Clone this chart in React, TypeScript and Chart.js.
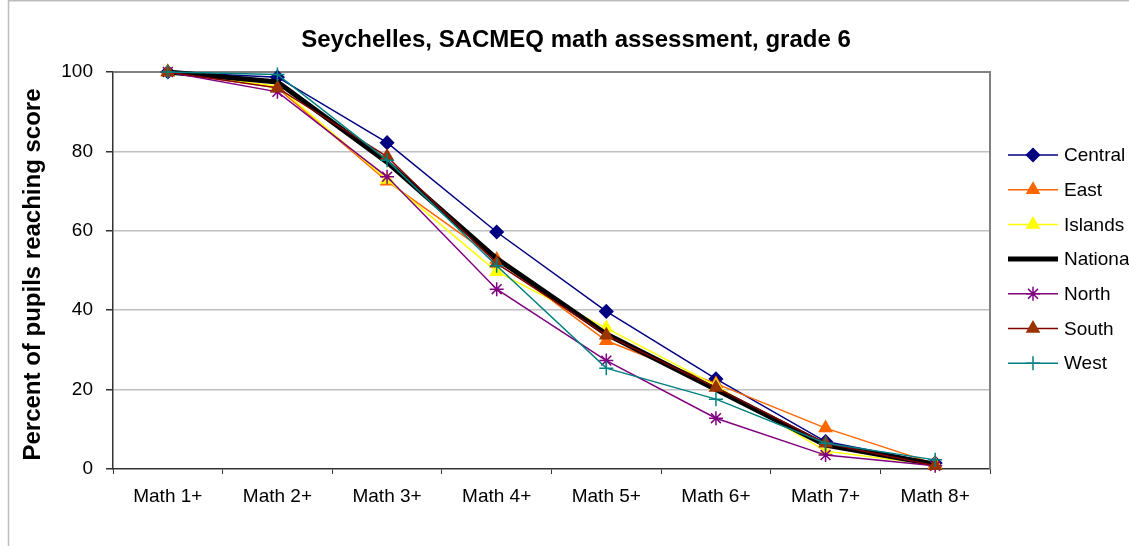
import React, { useEffect, useRef } from 'react';
import { Chart, registerables } from 'chart.js';
import { drawPoint } from 'chart.js/helpers';

Chart.register(...registerables);

const categories = ['Math 1+', 'Math 2+', 'Math 3+', 'Math 4+', 'Math 5+', 'Math 6+', 'Math 7+', 'Math 8+'];
const central = [100, 98.7, 82.2, 59.7, 39.7, 22.7, 6.9, 1.5];
const east = [100, 96.0, 72.5, 52.8, 32.3, 21.5, 10.3, 1.3];
const islands = [100, 96.4, 72.9, 49.7, 35.5, 21.0, 4.5, 1.0];
const national = [100, 97.5, 77.3, 53.0, 34.0, 20.0, 6.0, 1.2];
const north = [100, 95.0, 73.6, 45.3, 27.3, 12.8, 3.5, 0.8];
const south = [100, 96.0, 78.7, 51.8, 33.7, 20.5, 6.5, 0.8];
const west = [100, 99.4, 77.8, 51.2, 25.4, 17.6, 6.5, 2.3];
const seriesNames = ['Central', 'East', 'Islands', 'National', 'North', 'South', 'West'];
const yTickValues = [0, 20, 40, 60, 80, 100];
const chartTitle = 'Seychelles, SACMEQ math assessment, grade 6';
const yAxisTitle = 'Percent of pupils reaching score';

const FONT = '"Liberation Sans", Arial, sans-serif';

type Style = { line: string; marker: string; style: any; radius: number; width: number };
const styles: Style[] = [
  { line: '#000080', marker: '#000080', style: 'rectRot', radius: 6.5, width: 1.5 },
  { line: '#FF6600', marker: '#FF6600', style: 'triangle', radius: 7, width: 1.5 },
  { line: '#FFFF00', marker: '#FFFF00', style: 'triangle', radius: 7, width: 1.5 },
  { line: '#000000', marker: '#000000', style: false, radius: 0, width: 5 },
  { line: '#800080', marker: '#800080', style: 'star', radius: 7, width: 1.5 },
  { line: '#800000', marker: '#993300', style: 'triangle', radius: 7, width: 1.5 },
  { line: '#008080', marker: '#008080', style: 'cross', radius: 7, width: 1.5 },
];

const seriesData = [central, east, islands, national, north, south, west];

const decorPlugin = {
  id: 'decor',
  beforeDraw(chart: any) {
    const ctx = chart.ctx;
    ctx.save();
    ctx.fillStyle = '#ffffff';
    ctx.fillRect(0, 0, chart.width, chart.height);
    ctx.strokeStyle = '#bdbdbd';
    ctx.lineWidth = 1.5;
    ctx.beginPath();
    ctx.moveTo(8.5, chart.height);
    ctx.lineTo(8.5, 0.75);
    ctx.lineTo(chart.width, 0.75);
    ctx.stroke();
    ctx.restore();
  },
  beforeDatasetsDraw(chart: any) {
    const ctx = chart.ctx;
    const a = chart.chartArea;
    ctx.save();
    ctx.strokeStyle = '#808080';
    ctx.lineWidth = 2;
    ctx.beginPath();
    ctx.moveTo(a.left, a.top);
    ctx.lineTo(a.right, a.top);
    ctx.lineTo(a.right, a.bottom);
    ctx.stroke();
    ctx.restore();
  },
  afterDraw(chart: any) {
    const ctx = chart.ctx;
    const a = chart.chartArea;
    ctx.save();
    // title
    ctx.fillStyle = '#000';
    ctx.font = `bold 24px ${FONT}`;
    ctx.textAlign = 'center';
    ctx.textBaseline = 'middle';
    ctx.fillText(chartTitle, 576, 40);
    // y title
    ctx.save();
    ctx.translate(33, (a.top + a.bottom) / 2 + 4);
    ctx.rotate(-Math.PI / 2);
    ctx.font = `bold 24px ${FONT}`;
    ctx.fillText(yAxisTitle, 0, 0);
    ctx.restore();
    // legend
    const x0 = 1008;
    const x1 = 1058;
    const top = 155;
    const step = 34.7;
    ctx.font = `19px ${FONT}`;
    ctx.textAlign = 'left';
    ctx.textBaseline = 'middle';
    seriesNames.forEach((name, i) => {
      const s = styles[i];
      const y = top + i * step;
      ctx.strokeStyle = s.line;
      ctx.lineWidth = s.width;
      ctx.lineCap = 'butt';
      ctx.beginPath();
      ctx.moveTo(x0, y);
      ctx.lineTo(x1, y);
      ctx.stroke();
      if (s.style) {
        ctx.fillStyle = s.marker;
        ctx.strokeStyle = s.marker;
        ctx.lineWidth = 1.5;
        drawPoint(ctx, { pointStyle: s.style, radius: s.radius, rotation: 0, borderWidth: 1.5 }, (x0 + x1) / 2, y);
      }
      ctx.fillStyle = '#000';
      ctx.fillText(name, 1064, y + 1);
    });
    ctx.restore();
  },
};

export default function App() {
  const ref = useRef<HTMLCanvasElement>(null);
  useEffect(() => {
    if (!ref.current) return;
    const chart = new Chart(ref.current, {
      type: 'line',
      data: {
        labels: categories,
        datasets: seriesNames.map((name, i) => ({
          label: name,
          data: seriesData[i],
          borderColor: styles[i].line,
          backgroundColor: styles[i].marker,
          pointBackgroundColor: styles[i].marker,
          pointBorderColor: styles[i].marker,
          borderWidth: styles[i].width,
          pointStyle: styles[i].style,
          pointRadius: styles[i].radius,
          pointBorderWidth: 1.5,
          tension: 0,
          fill: false,
          clip: false as any,
          order: 7 - i,
        })),
      },
      options: {
        responsive: false,
        animation: false,
        devicePixelRatio: 1,
        layout: { padding: { left: 8, top: 72, right: 139, bottom: 37 } },
        plugins: {
          legend: { display: false },
          title: { display: false },
          tooltip: { enabled: false },
        },
        scales: {
          x: {
            type: 'category',
            offset: true,
            grid: {
              display: true,
              offset: true,
              drawOnChartArea: false,
              drawTicks: true,
              tickLength: 5,
              tickColor: '#333333',
              color: '#333333',
            },
            border: { display: true, color: '#333333', width: 1.5 },
            ticks: { color: '#000', font: { family: FONT, size: 19 }, padding: 11, maxRotation: 0, autoSkip: false },
            afterFit: (scale: any) => { scale.height = 40; },
          },
          y: {
            min: 0,
            max: 100,
            afterBuildTicks: (scale: any) => { scale.ticks = yTickValues.map((v) => ({ value: v })); },
            grid: {
              display: true,
              drawTicks: true,
              tickLength: 7,
              tickColor: '#333333',
              color: (c: any) => (c.tick && c.tick.value === 0 ? 'rgba(0,0,0,0)' : '#c0c0c0'),
              lineWidth: 1.5,
            },
            border: { display: true, color: '#333333', width: 1.5 },
            ticks: { color: '#000', font: { family: FONT, size: 19 }, padding: 13 },
            afterFit: (scale: any) => { scale.width = 105; },
          },
        },
      },
      plugins: [decorPlugin],
    });
    return () => chart.destroy();
  }, []);
  return (
    <div style={{ position: 'fixed', left: 0, top: 0, width: 1129, height: 546, background: '#fff' }}>
      <canvas ref={ref} width={1129} height={546} style={{ display: 'block' }} />
    </div>
  );
}
